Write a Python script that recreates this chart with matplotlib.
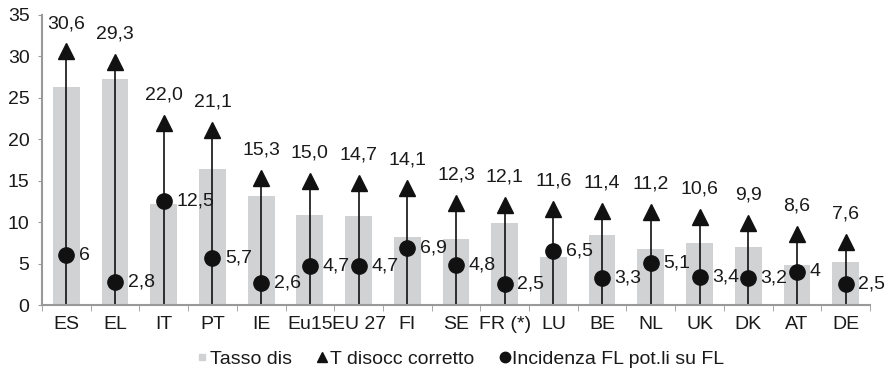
import matplotlib
matplotlib.use("Agg")
import matplotlib.pyplot as plt
from matplotlib.lines import Line2D
import numpy as np

plt.rcParams['font.family'] = ['Liberation Sans', 'DejaVu Sans']

categories = ["ES", "EL", "IT", "PT", "IE", "Eu15", "EU 27", "FI", "SE", "FR (*)",
              "LU", "BE", "NL", "UK", "DK", "AT", "DE"]
tasso_dis = [26.3, 27.3, 12.2, 16.4, 13.1, 10.9, 10.7, 8.2, 8.0, 9.9,
             5.8, 8.4, 6.7, 7.5, 7.0, 4.8, 5.2]
t_disocc_corretto = [30.6, 29.3, 22.0, 21.1, 15.3, 15.0, 14.7, 14.1, 12.3, 12.1,
                     11.6, 11.4, 11.2, 10.6, 9.9, 8.6, 7.6]
incidenza_fl = [6, 2.8, 12.5, 5.7, 2.6, 4.7, 4.7, 6.9, 4.8, 2.5,
                6.5, 3.3, 5.1, 3.4, 3.2, 4, 2.5]
yticks = [0, 5, 10, 15, 20, 25, 30, 35]

def fmt_g(v):
    return ("%g" % v).replace(".", ",")

def fmt_1(v):
    return ("%.1f" % v).replace(".", ",")

fig = plt.figure(figsize=(8.9, 3.73), dpi=100)
ax = fig.add_axes([0.0472, 0.1823, 0.9303, 0.7775])
x = np.arange(len(categories))
txt = '#1a1a1a'
fs = 14

ax.bar(x, tasso_dis, width=0.55, color='#d1d2d4', zorder=1)
ax.vlines(x, 0, t_disocc_corretto, color='#111111', lw=1.2, zorder=2)
ax.plot(x, t_disocc_corretto, linestyle='none', marker='^', ms=11, color='#111111', zorder=3)
ax.plot(x, incidenza_fl, linestyle='none', marker='o', ms=11, color='#111111', zorder=3)

for xi, v in zip(x, t_disocc_corretto):
    ax.annotate(fmt_1(v), (xi, v), xytext=(0, 20), textcoords='offset points',
                ha='center', va='center', fontsize=fs, color=txt)
for xi, v in zip(x, incidenza_fl):
    ax.annotate(fmt_g(v), (xi, v), xytext=(9, 0), textcoords='offset points',
                ha='left', va='center', fontsize=fs, color=txt)

ax.set_xlim(-0.5, len(categories) - 0.5)
ax.set_ylim(0, 35)
ax.set_yticks(yticks)
ax.set_yticklabels([str(t) for t in yticks], fontsize=fs, color=txt)
ax.set_xticks(x)
ax.set_xticklabels(categories, fontsize=fs, color=txt)
ax.set_xticks(np.arange(-0.5, len(categories), 1), minor=True)
ax.tick_params(axis='x', which='major', length=0, pad=8)
ax.tick_params(axis='x', which='minor', length=4, color='#999999', direction='out')
ax.tick_params(axis='y', length=3, color='#999999', pad=6)
for s in ['top', 'right']:
    ax.spines[s].set_visible(False)
for s in ['left', 'bottom']:
    ax.spines[s].set_color('#999999')
    ax.spines[s].set_linewidth(1.5)

handles = [
    Line2D([], [], linestyle='none', marker='s', ms=4.5, color='#d1d2d4', label='Tasso dis'),
    Line2D([], [], linestyle='none', marker='^', ms=7.5, color='#111111', label='T disocc corretto'),
    Line2D([], [], linestyle='none', marker='o', ms=7.5, color='#111111', label='Incidenza FL pot.li su FL'),
]
fig.legend(handles=handles, loc='center', bbox_to_anchor=(0.518, 0.038), ncol=3, frameon=False,
           fontsize=fs, handlelength=0.5, handletextpad=0.15, columnspacing=1.3, labelcolor=txt)

fig.savefig("out.png", dpi=100)
